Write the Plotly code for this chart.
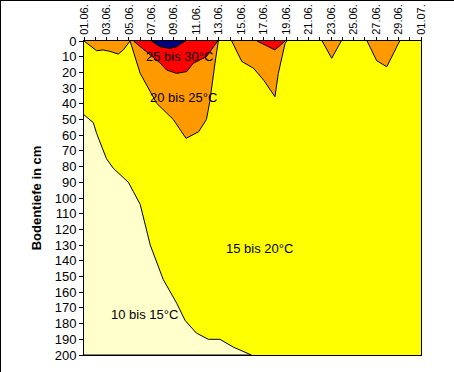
import plotly.graph_objects as go

# Tick labels (every second day, June 1 .. July 1)
tick_days = list(range(0, 31, 2))
tick_labels = ["01.06.", "03.06.", "05.06.", "07.06.", "09.06.", "11.06.", "13.06.", "15.06.",
               "17.06.", "19.06.", "21.06.", "23.06.", "25.06.", "27.06.", "29.06.", "01.07."]
depth_ticks = list(range(0, 201, 10))

# 15 °C isotherm (boundary of 10-15 °C zone): day offset, depth in cm
iso15_day = [0, 0.83, 1.13, 2.0, 2.6, 3.2, 3.95, 4.4, 5.0, 5.9, 7.06, 8.25, 9.0, 10.0, 11.07, 12.1, 13.3, 14.9]
iso15_depth = [47, 52, 59, 75, 81, 85, 90, 96, 104, 130, 152, 167, 178, 186, 190, 190, 195, 200]

# 20 °C isotherm pockets (20-25 °C zones)
z20a_day = [0, 0.83, 1.13, 1.7, 2.3, 3.05, 3.5, 4.1]
z20a_depth = [0, 4.9, 6.2, 5.7, 6.6, 8.3, 5.7, 0]
z20b_day = [4.1, 5.0, 6.47, 7.95, 9.08, 10.2, 10.9, 11.2, 11.66, 11.96]
z20b_depth = [0, 20.6, 39.7, 50, 62, 57.8, 50, 38.6, 14.2, 0]
z20c_day = [13.15, 14.04, 15.1, 16.0, 17.0, 17.3, 17.9, 18.05]
z20c_depth = [0, 13, 17.4, 25, 35.5, 20.6, 1.5, 0]
z20d_day = [21.2, 22.05, 22.9]
z20d_depth = [0, 11, 0]
z20e_day = [25.2, 26.05, 26.95, 28.1]
z20e_depth = [0, 12.5, 16.4, 0]

# 25 °C isotherm pockets (25-30 °C zones)
z25a_day = [4.4, 5.6, 6.77, 7.36, 8.25, 9.14, 9.73, 10.9, 11.8, 11.9]
z25a_depth = [0, 6.8, 14, 18.5, 20.6, 19.5, 14.2, 10, 1.5, 0]
z25b_day = [15.4, 17.0, 17.9]
z25b_depth = [0, 5.7, 0]

# 30 °C isotherm pocket (> 30 °C)
z30_day = [6.0, 6.77, 7.65, 8.25, 9.0]
z30_depth = [0, 3.6, 4.7, 3.6, 0]

zone_labels = ["25 bis 30°C", "20 bis 25°C", "15 bis 20°C", "10 bis 15°C"]
label_day = [8.46, 8.9, 15.6, 5.35]
label_depth = [9.6, 36, 132, 174]

FONT = "Liberation Sans, Arial, sans-serif"

fig = go.Figure()

def zone(xs, ys, color):
    fig.add_trace(go.Scatter(x=xs, y=ys, mode="lines", fill="toself", fillcolor=color,
                             line=dict(color="black", width=1), hoverinfo="skip",
                             showlegend=False))

zone([0] + iso15_day + [0], iso15_depth[:1] + iso15_depth + [200], "#FFFFCC")
for xs, ys in [(z20a_day, z20a_depth), (z20b_day, z20b_depth), (z20c_day, z20c_depth),
               (z20d_day, z20d_depth), (z20e_day, z20e_depth)]:
    zone(xs, ys, "#FF9900")
for xs, ys in [(z25a_day, z25a_depth), (z25b_day, z25b_depth)]:
    zone(xs, ys, "#FF0000")
zone(z30_day, z30_depth, "#000080")

for t, x, y in zip(zone_labels, label_day, label_depth):
    fig.add_annotation(x=x, y=y, text=t, showarrow=False,
                       font=dict(family=FONT, size=13, color="black"))

fig.update_layout(
    width=454, height=372,
    margin=dict(l=84, r=33, t=41, b=17, autoexpand=False),
    paper_bgcolor="white", plot_bgcolor="#FFFF00",
    font=dict(family=FONT, size=12, color="black"),
    showlegend=False,
    xaxis=dict(range=[0, 30], side="top", tickvals=tick_days, ticktext=tick_labels,
               tickangle=-90, ticks="outside", ticklen=3, tickcolor="black",
               showgrid=False, zeroline=False, showline=True, linecolor="black",
               linewidth=1, mirror=True, tickfont=dict(size=11), automargin=False,
               minor=dict(dtick=1, tick0=0, ticks="outside", ticklen=3, tickcolor="black",
                          showgrid=False)),
    yaxis=dict(range=[200, 0], tickvals=depth_ticks, ticks="outside", ticklen=4,
               tickcolor="black", showgrid=False, zeroline=False, showline=True,
               linecolor="black", linewidth=1, mirror=True, tickfont=dict(size=13),
               automargin=False,
               title=dict(text="<b>Bodentiefe in cm</b>", font=dict(size=13), standoff=10)),
    shapes=[
        dict(type="line", xref="paper", yref="paper", x0=-84/337, x1=1 + 33/337,
             y0=1 + 41/314, y1=1 + 41/314, line=dict(color="black", width=2)),
        dict(type="line", xref="paper", yref="paper", x0=-84/337, x1=-84/337,
             y0=-17/314, y1=1 + 41/314, line=dict(color="black", width=2)),
    ],
)

fig.write_html("out.html", config={"displayModeBar": False, "staticPlot": True},
               post_script="document.body.style.margin='0';")
